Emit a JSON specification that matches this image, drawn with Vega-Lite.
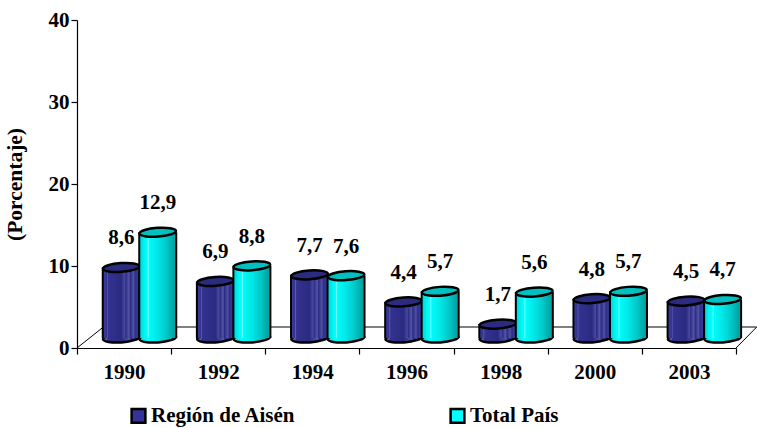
{
"$schema":"https://vega.github.io/schema/vega-lite/v6.json",
"autosize":"none",
"width":659,"height":328,
"padding":{"left":77,"top":20,"right":21,"bottom":80},
"background":"white",
"config":{"view":{"stroke":null},"font":"Liberation Serif"},
"datasets":{
"bars":[
{"year":"1990","series":"Región de Aisén","value":8.6,"label":"8,6"},
{"year":"1990","series":"Total País","value":12.9,"label":"12,9"},
{"year":"1992","series":"Región de Aisén","value":6.9,"label":"6,9"},
{"year":"1992","series":"Total País","value":8.8,"label":"8,8"},
{"year":"1994","series":"Región de Aisén","value":7.7,"label":"7,7"},
{"year":"1994","series":"Total País","value":7.6,"label":"7,6"},
{"year":"1996","series":"Región de Aisén","value":4.4,"label":"4,4"},
{"year":"1996","series":"Total País","value":5.7,"label":"5,7"},
{"year":"1998","series":"Región de Aisén","value":1.7,"label":"1,7"},
{"year":"1998","series":"Total País","value":5.6,"label":"5,6"},
{"year":"2000","series":"Región de Aisén","value":4.8,"label":"4,8"},
{"year":"2000","series":"Total País","value":5.7,"label":"5,7"},
{"year":"2003","series":"Región de Aisén","value":4.5,"label":"4,5"},
{"year":"2003","series":"Total País","value":4.7,"label":"4,7"}
],
"floor":[{"u":0,"v":0,"o":1},{"u":0.28,"v":2.56,"o":2},{"u":7.22,"v":2.56,"o":3},{"u":7,"v":0,"o":4}]
},
"resolve":{"scale":{"x":"independent"}},
"layer":[
{"data":{"name":"floor"},
 "mark":{"type":"line","color":"black","strokeWidth":1,"clip":false},
 "encoding":{
  "x":{"field":"u","type":"quantitative","scale":{"domain":[0,7],"nice":false,"zero":false},"axis":null},
  "y":{"field":"v","type":"quantitative","scale":{"domain":[0,40],"nice":false},"axis":{"values":[0,10,20,30,40],"grid":false,"title":"(Porcentaje)","titleFont":"Liberation Serif","titleFontSize":21.5,"titleFontWeight":"bold","titleColor":"black","titlePadding":22,"labelFont":"Liberation Serif","labelFontSize":21,"labelFontWeight":"bold","labelColor":"black","labelPadding":2,"tickColor":"black","domainColor":"black","tickSize":6,"domainWidth":1.2,"tickWidth":1.2}},
  "order":{"field":"o"}}},
{"data":{"name":"bars"},
 "encoding":{
  "x":{"field":"year","type":"nominal","scale":{"paddingInner":0,"paddingOuter":0},"axis":{"title":null,"labelAngle":0,"labelFont":"Liberation Serif","labelFontSize":21,"labelFontWeight":"bold","labelColor":"black","labelPadding":7,"tickBand":"extent","tickColor":"black","tickSize":6,"domainColor":"black","domainWidth":1.2,"tickWidth":1.2}},
  "xOffset":{"field":"series","type":"nominal","scale":{"domain":["Región de Aisén","Total País"],"range":[26,99],"paddingInner":0,"paddingOuter":0}}
 },
 "layer":[
 {"transform":[{"filter":"datum.series==='Región de Aisén'"}],
  "layer":[
  {"mark":{"type":"point","filled":true,"opacity":1,"shape":"M-1,0C-1,-0.13,-0.55,-0.24,0,-0.24C0.55,-0.24,1,-0.13,1,0C1,0.13,0.55,0.24,0,0.24C-0.55,0.24,-1,0.13,-1,0Z","size":1340,"angle":-4,"yOffset":-10,"stroke":"black","strokeWidth":2.5,"fill":{"gradient":"linear","x1":0,"x2":1,"y1":0,"y2":0,"stops":[{"offset":0,"color":"#3a3a9c"},{"offset":0.1,"color":"#5a5ab4"},{"offset":0.13,"color":"#33338f"},{"offset":0.5,"color":"#2a2a80"},{"offset":0.72,"color":"#5555aa"},{"offset":0.76,"color":"#2c2c84"},{"offset":1,"color":"#3a3a9c"}]}},
   "encoding":{"y":{"datum":0,"type":"quantitative"}}},
  {"mark":{"type":"bar","width":39,"yOffset":-10,"y2Offset":-10,"fill":"black"},
   "encoding":{"y":{"field":"value","type":"quantitative"},"y2":{"datum":0}}},
  {"mark":{"type":"bar","width":35,"yOffset":-10,"y2Offset":-10,"fill":{"gradient":"linear","x1":0,"x2":1,"y1":0,"y2":0,"stops":[{"offset":0,"color":"#3a3a9c"},{"offset":0.08,"color":"#33338f"},{"offset":0.1,"color":"#5a5ab4"},{"offset":0.13,"color":"#33338f"},{"offset":0.35,"color":"#2e2e88"},{"offset":0.5,"color":"#2a2a80"},{"offset":0.6,"color":"#4a4aa0"},{"offset":0.63,"color":"#2c2c84"},{"offset":0.72,"color":"#5555aa"},{"offset":0.76,"color":"#2c2c84"},{"offset":0.85,"color":"#5050a4"},{"offset":0.9,"color":"#30308a"},{"offset":1,"color":"#3a3a9c"}]}},
   "encoding":{"y":{"field":"value","type":"quantitative"},"y2":{"datum":0}}},
  {"mark":{"type":"point","filled":true,"opacity":1,"shape":"M-1,0C-1,-0.13,-0.55,-0.24,0,-0.24C0.55,-0.24,1,-0.13,1,0C1,0.13,0.55,0.24,0,0.24C-0.55,0.24,-1,0.13,-1,0Z","size":1340,"angle":-4,"yOffset":-10,"stroke":"black","strokeWidth":2.5,"fill":"#2b2b80"},
   "encoding":{"y":{"field":"value","type":"quantitative"}}}
  ]},
 {"transform":[{"filter":"datum.series==='Total País'"}],
  "layer":[
  {"mark":{"type":"point","filled":true,"opacity":1,"shape":"M-1,0C-1,-0.13,-0.55,-0.24,0,-0.24C0.55,-0.24,1,-0.13,1,0C1,0.13,0.55,0.24,0,0.24C-0.55,0.24,-1,0.13,-1,0Z","size":1340,"angle":-4,"yOffset":-10,"stroke":"black","strokeWidth":2.5,"fill":{"gradient":"linear","x1":0,"x2":1,"y1":0,"y2":0,"stops":[{"offset":0,"color":"#00d8d8"},{"offset":0.2,"color":"#00ffff"},{"offset":0.5,"color":"#00e6e6"},{"offset":0.75,"color":"#00c8c8"},{"offset":1,"color":"#00a0a0"}]}},
   "encoding":{"y":{"datum":0,"type":"quantitative"}}},
  {"mark":{"type":"bar","width":39,"yOffset":-10,"y2Offset":-10,"fill":"black"},
   "encoding":{"y":{"field":"value","type":"quantitative"},"y2":{"datum":0}}},
  {"mark":{"type":"bar","width":35,"yOffset":-10,"y2Offset":-10,"fill":{"gradient":"linear","x1":0,"x2":1,"y1":0,"y2":0,"stops":[{"offset":0,"color":"#00d8d8"},{"offset":0.12,"color":"#00f4f4"},{"offset":0.2,"color":"#00ffff"},{"offset":0.23,"color":"#70ffff"},{"offset":0.26,"color":"#00fbfb"},{"offset":0.5,"color":"#00e6e6"},{"offset":0.75,"color":"#00c8c8"},{"offset":0.9,"color":"#00aeae"},{"offset":1,"color":"#00a0a0"}]}},
   "encoding":{"y":{"field":"value","type":"quantitative"},"y2":{"datum":0}}},
  {"mark":{"type":"point","filled":true,"opacity":1,"shape":"M-1,0C-1,-0.13,-0.55,-0.24,0,-0.24C0.55,-0.24,1,-0.13,1,0C1,0.13,0.55,0.24,0,0.24C-0.55,0.24,-1,0.13,-1,0Z","size":1340,"angle":-4,"yOffset":-10,"stroke":"black","strokeWidth":2.5,"fill":"#00c0c0"},
   "encoding":{"y":{"field":"value","type":"quantitative"}}}
  ]},
 {"mark":{"type":"text","font":"Liberation Serif","fontSize":21,"fontWeight":"bold","color":"black","yOffset":-39,"baseline":"middle"},
  "encoding":{"y":{"field":"value","type":"quantitative"},"text":{"field":"label"}}},
 {"mark":{"type":"point","filled":true,"size":0},
  "encoding":{"y":{"field":"value","type":"quantitative"},
   "color":{"field":"series","type":"nominal","scale":{"domain":["Región de Aisén","Total País"],"range":["#333399","#00ffff"]},
    "legend":{"orient":"none","legendX":51,"legendY":385,"title":null,"columns":2,"columnPadding":149,"symbolType":"square","symbolSize":190,"symbolStrokeColor":"black","symbolStrokeWidth":2.5,"symbolOpacity":1,"labelFont":"Liberation Serif","labelFontSize":21,"labelFontWeight":"bold","labelColor":"black","labelOffset":2,"labelLimit":300}}}}
 ]}
]
}
